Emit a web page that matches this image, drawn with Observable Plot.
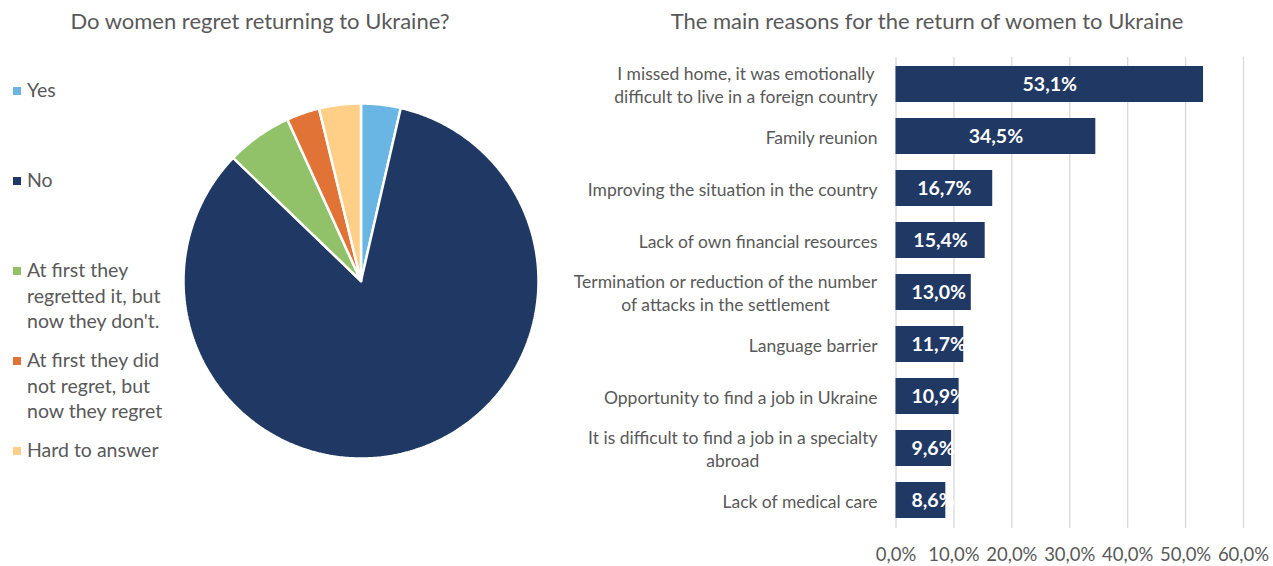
<!DOCTYPE html>
<html>
<head>
<meta charset="utf-8">
<script src="https://cdn.jsdelivr.net/npm/d3@7"></script>
<script src="https://cdn.jsdelivr.net/npm/@observablehq/plot@0.6"></script>
<style>
  html, body { margin: 0; padding: 0; background: #fff; }
  #root { position: relative; width: 1273px; height: 566px; overflow: hidden; font-family: Lato, "Open Sans", sans-serif; color: #595959; }
  .title { position: absolute; top: 7px; font-size: 22px; white-space: nowrap; transform: translateX(-50%); }
  #pie { position: absolute; left: 0; top: 0; }
  #bars { position: absolute; left: 560px; top: 0; }
  #legend { position: absolute; left: 13px; top: 77px; }
  .item { height: 90px; display: flex; align-items: flex-start; }
  .sw { width: 8px; height: 8px; margin-top: 10px; margin-right: 6px; flex: none; }
  .lab { font-size: 19.5px; line-height: 25.5px; width: 145px; }
</style>
</head>
<body>
<div id="root">
  <div class="title" style="left:260px">Do women regret returning to Ukraine?</div>
  <div class="title" style="left:927px">The main reasons for the return of women to Ukraine</div>
  <div id="pie"></div>
  <div id="legend"></div>
  <div id="bars"></div>
</div>
<script>
// ---- Pie data ----
const pieLabels = ["Yes", "No", "At first they regretted it, but now they don't.", "At first they did not regret, but now they regret", "Hard to answer"];
const pieValues = [3.6, 83.6, 6.0, 3.0, 3.8];
const pieColors = ["#69b6e4", "#203864", "#91c168", "#e07335", "#ffcf87"];

// ---- Bar data ----
const reasons = [
  "I missed home, it was emotionally\ndifficult to live in a foreign country",
  "Family reunion",
  "Improving the situation in the country",
  "Lack of own financial resources",
  "Termination or reduction of the number\nof attacks in the settlement",
  "Language barrier",
  "Opportunity to find a job in Ukraine",
  "It is difficult to find a job in a specialty\nabroad",
  "Lack of medical care"
];
const shares = [53.1, 34.5, 16.7, 15.4, 13.0, 11.7, 10.9, 9.6, 8.6];
const xTicks = [0, 10, 20, 30, 40, 50, 60];

const fmt = v => v.toFixed(1).replace(".", ",") + "%";

// ---- Pie ----
const arcs = d3.pie().sort(null).value(d => d)(pieValues);
const piePts = [];
arcs.forEach((a, i) => {
  const key = pieLabels[i];
  piePts.push({key, px: 0, py: 0});
  const n = Math.max(4, Math.ceil((a.endAngle - a.startAngle) / 0.01));
  for (let k = 0; k <= n; k++) {
    const t = a.startAngle + (a.endAngle - a.startAngle) * k / n;
    piePts.push({key, px: Math.sin(t), py: Math.cos(t)});
  }
  piePts.push({key, px: 0, py: 0});
});

const pie = Plot.plot({
  width: 560, height: 566,
  margin: 0,
  x: {domain: [-1, 1], range: [183, 538], axis: null},
  y: {domain: [-1, 1], range: [458, 103], axis: null},
  color: {domain: pieLabels, range: pieColors},
  marks: [
    Plot.line(piePts, {x: "px", y: "py", z: "key", fill: "key", stroke: "#ffffff", strokeWidth: 2.5, strokeLinejoin: "miter", curve: "linear"})
  ]
});
document.getElementById("pie").appendChild(pie);

// legend
const legend = document.getElementById("legend");
pieLabels.forEach((l, i) => {
  const it = document.createElement("div");
  it.className = "item";
  it.innerHTML = `<div class="sw" style="background:${pieColors[i]}"></div><div class="lab"></div>`;
  it.querySelector(".lab").textContent = l;
  legend.appendChild(it);
});

// ---- Bars ----
const data = reasons.map((r, i) => ({r, v: shares[i]}));
const labelSize = 17.5;
const ctx = document.createElement("canvas").getContext("2d");
ctx.font = `${labelSize}px Lato`;
const gap = 18.5;
const catMarks = reasons.map(r => {
  const lines = r.split("\n");
  const multi = lines.length > 1;
  const w = d3.max(lines, l => ctx.measureText(l).width);
  return Plot.text([r], {
    x: () => 0, y: d => d, text: d => d,
    textAnchor: multi ? "middle" : "end",
    dx: multi ? -(gap + w / 2) : -gap,
    fill: "#595959", fontSize: labelSize, lineHeight: 1.3
  });
});

const bars = Plot.plot({
  width: 713, height: 566,
  marginLeft: 335.5, marginRight: 30, marginTop: 57, marginBottom: 38,
  style: {fontFamily: "Lato, 'Open Sans', sans-serif", color: "#595959", background: "transparent"},
  x: {domain: [0, 60], ticks: xTicks, tickFormat: fmt, label: null, tickSize: 0, tickPadding: 20},
  y: {domain: reasons, axis: null, paddingInner: 0.3, paddingOuter: 0.135},
  marks: [
    Plot.ruleX(xTicks, {stroke: "#d9d9d9", strokeWidth: 1.3}),
    Plot.barX(data, {x: "v", y: "r", fill: "#203864"}),
    Plot.text(data.filter(d => d.v >= 14), {x: d => d.v / 2, y: "r", text: d => fmt(d.v), fill: "#ffffff", fontWeight: "bold", fontSize: 19.5}),
    Plot.text(data.filter(d => d.v < 14), {x: () => 0, y: "r", text: d => fmt(d.v), textAnchor: "start", dx: 15.5, fill: "#ffffff", fontWeight: "bold", fontSize: 19.5}),
    ...catMarks,
    Plot.axisX({ticks: xTicks, tickFormat: fmt, tickSize: 0, tickPadding: 19, fontSize: 18.5, fill: "#595959", label: null})
  ]
});
document.getElementById("bars").appendChild(bars);
</script>
</body>
</html>
